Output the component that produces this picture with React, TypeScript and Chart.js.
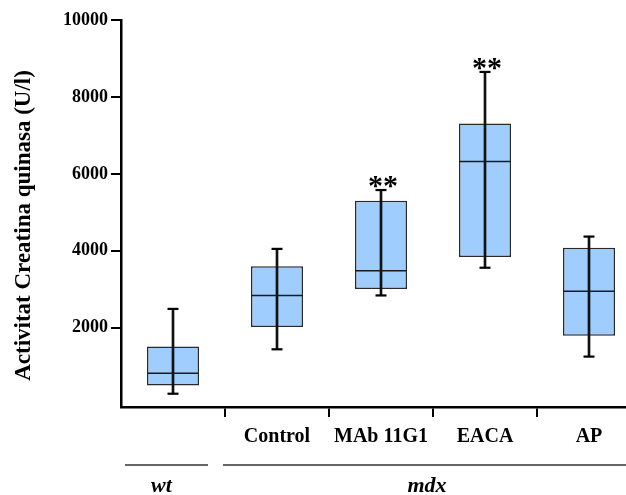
import React, { useEffect, useRef } from "react";
import { Chart, registerables } from "chart.js";

Chart.register(...registerables);

const categories = ["", "Control", "MAb 11G1", "EACA", "AP"];
const whiskerMin = [285, 1440, 2840, 3560, 1250];
const q1 = [500, 2020, 3010, 3840, 1790];
const median = [815, 2840, 3480, 6320, 2950];
const q3 = [1510, 3600, 5300, 7310, 4080];
const whiskerMax = [2490, 4050, 5580, 8650, 4370];
const significance = ["", "", "**", "**", ""];
const yTicks = [2000, 4000, 6000, 8000, 10000];
const groupLabels = ["wt", "mdx"];
const groupFrom = [0, 1];
const groupTo = [0, 4];
const yTitle = "Activitat Creatina quinasa (U/l)";

const SERIF = "'Liberation Serif', 'Times New Roman', serif";
const GROUP_INSET_LEFT = [4, -2];
const GROUP_INSET_RIGHT = [17, 0];

const annotations = {
  id: "annotations",
  afterDraw(chart: any) {
    const ctx = chart.ctx;
    const x = chart.scales.x;
    const y = chart.scales.y;
    ctx.save();
    ctx.fillStyle = "#000";
    // significance stars
    ctx.font = `bold 30px ${SERIF}`;
    ctx.textAlign = "center";
    ctx.textBaseline = "alphabetic";
    significance.forEach((s, i) => {
      if (!s) return;
      ctx.fillText(s, x.getPixelForValue(i) + 2, y.getPixelForValue(whiskerMax[i]) + 5);
    });
    // group lines and labels
    const catW = x.width / categories.length;
    const lineY = x.top + 58;
    groupLabels.forEach((label, g) => {
      const x0 = x.getPixelForValue(groupFrom[g]) - catW / 2 + GROUP_INSET_LEFT[g];
      const x1 = x.getPixelForValue(groupTo[g]) + catW / 2 - GROUP_INSET_RIGHT[g];
      ctx.strokeStyle = "#333";
      ctx.lineWidth = 1.5;
      ctx.beginPath();
      ctx.moveTo(x0, lineY);
      ctx.lineTo(x1, lineY);
      ctx.stroke();
      ctx.font = `italic bold 22px ${SERIF}`;
      ctx.textBaseline = "middle";
      ctx.textAlign = "center";
      ctx.fillText(label, (x0 + x1) / 2 - 5, lineY + 21);
    });
    // y axis title
    ctx.translate(30, (y.top + y.bottom) / 2 + 12);
    ctx.rotate(-Math.PI / 2);
    ctx.font = `bold 23px ${SERIF}`;
    ctx.textAlign = "center";
    ctx.textBaseline = "alphabetic";
    ctx.fillText(yTitle, 0, 0);
    ctx.restore();
  },
};

export default function App() {
  const canvasRef = useRef<HTMLCanvasElement | null>(null);

  useEffect(() => {
    const canvas = canvasRef.current;
    if (!canvas) return;
    const chart = new Chart(canvas, {
      type: "bar",
      data: {
        labels: categories,
        datasets: [
          {
            type: "bar",
            label: "box",
            data: q1.map((v, i) => [v, q3[i]]) as any,
            backgroundColor: "#9fcdfd",
            borderColor: "#2a2a2a",
            borderWidth: 1.5,
            borderSkipped: false,
            barPercentage: 0.5,
            categoryPercentage: 1,
            grouped: false,
            order: 5,
          } as any,
          {
            type: "bar",
            label: "whisker",
            data: whiskerMin.map((v, i) => [v, whiskerMax[i]]) as any,
            backgroundColor: "#111",
            borderWidth: 0,
            barThickness: 2,
            grouped: false,
            order: 4,
          } as any,
          {
            type: "line",
            label: "median",
            data: median,
            showLine: false,
            pointStyle: "line",
            pointRadius: 25.5,
            pointBorderWidth: 1.5,
            pointBorderColor: "#1a1a1a",
            clip: false,
            order: 3,
          } as any,
          {
            type: "line",
            label: "max",
            data: whiskerMax,
            showLine: false,
            pointStyle: "line",
            pointRadius: 5.5,
            pointBorderWidth: 2.2,
            pointBorderColor: "#000",
            clip: false,
            order: 2,
          } as any,
          {
            type: "line",
            label: "min",
            data: whiskerMin,
            showLine: false,
            pointStyle: "line",
            pointRadius: 5.5,
            pointBorderWidth: 2.2,
            pointBorderColor: "#000",
            clip: false,
            order: 1,
          } as any,
        ],
      },
      options: {
        animation: false,
        responsive: false,
        devicePixelRatio: 1,
        layout: { autoPadding: false, padding: { top: 20, left: 0, right: 0, bottom: 0 } },
        plugins: {
          legend: { display: false },
          tooltip: { enabled: false },
        },
        scales: {
          x: {
            type: "category",
            offset: true,
            afterFit: (s: any) => {
              s.height = 88;
              s.paddingLeft = 0;
              s.paddingRight = 0;
            },
            border: { display: true, color: "#000", width: 2.5 },
            grid: {
              offset: true,
              drawOnChartArea: false,
              drawTicks: true,
              tickLength: 10,
              lineWidth: 2,
              color: (c: any) => (c.index === 0 ? "rgba(0,0,0,0)" : "#000"),
            },
            ticks: {
              color: "#000",
              padding: 8,
              maxRotation: 0,
              autoSkip: false,
              font: { family: SERIF, size: 20, weight: "bold" },
            },
          },
          y: {
            type: "linear",
            min: -60,
            max: 10000,
            afterFit: (s: any) => {
              s.width = 121;
              s.paddingTop = 0;
              s.paddingBottom = 0;
            },
            afterBuildTicks: (s: any) => {
              s.ticks = yTicks.map((v) => ({ value: v }));
            },
            border: { display: true, color: "#000", width: 2.5 },
            grid: {
              drawOnChartArea: false,
              drawTicks: true,
              tickLength: 10,
              lineWidth: 2,
              color: "#000",
            },
            ticks: {
              color: "#000",
              padding: 3,
              callback: (v: any) => String(v),
              font: { family: SERIF, size: 18, weight: "bold" },
            },
          },
        },
      } as any,
      plugins: [annotations],
    });
    return () => chart.destroy();
  }, []);

  return (
    <div
      style={{
        position: "fixed",
        left: 0,
        top: 0,
        width: 626,
        height: 495,
        overflow: "hidden",
        background: "#fff",
      }}
    >
      <canvas
        ref={canvasRef}
        width={641}
        height={495}
        style={{ width: 641, height: 495, display: "block" }}
      />
    </div>
  );
}
